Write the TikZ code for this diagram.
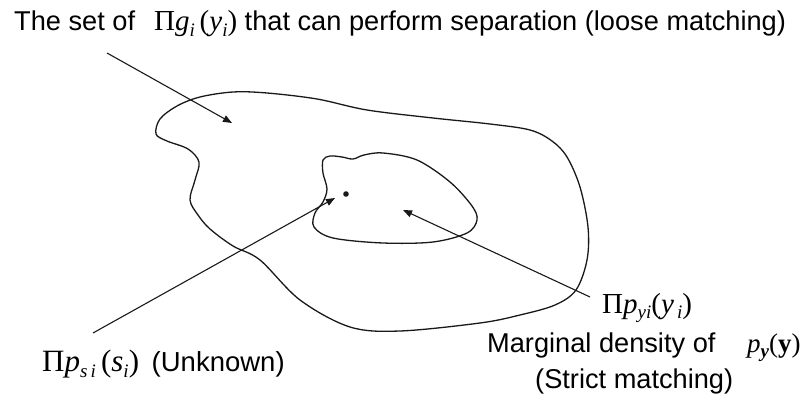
\documentclass[tikz,border=0pt]{standalone}
\usepackage{fontspec}
\setmainfont{Liberation Sans}
\newfontfamily\mserif{Liberation Serif}
\usetikzlibrary{arrows.meta}
\newcommand{\msb}[1]{\raisebox{-0.45ex}{\fontsize{19}{19}\selectfont\itshape #1}}
\newcommand{\mth}[2][29]{{\mserif\fontsize{#1}{34}\selectfont #2}}
\begin{document}
\begin{tikzpicture}[x=1pt,y=-1pt,
  lbl/.style={anchor=base west,inner sep=0pt,font=\fontsize{27.2}{32}\selectfont},
  ulbl/.style={anchor=base west,inner sep=0pt,font=\fontsize{27.5}{32}\selectfont},
  curve/.style={line width=1.3pt,color=black!90},
  pointer/.style={line width=1.1pt,color=black!90,-{Triangle[length=9pt,width=7pt]}}]
\useasboundingbox (0,0) rectangle (803,395);
% outer region
\draw[curve] plot[smooth cycle,tension=0.55] coordinates {
 (233,92) (267,93) (317,99) (367,110) (433,118) (490,124) (530,130) (552,141)
 (567,157) (580,187) (588,227) (587,260) (576,290) (555,305) (520,315) (480,323)
 (400,331) (350,327) (300,300) (260,260) (233,246) (210,229) (198,215)
 (190,200) (195,180) (199,162) (188,149) (167,141) (156,134) (160,119) (177,106) (200,97)};
% inner region
\draw[curve] plot[smooth cycle,tension=0.55] coordinates {
 (323,160) (330,156) (342,157) (353,159) (364,155) (383,153) (417,160) (450,182)
 (472,206) (477,220) (467,233) (433,242) (383,243) (333,238) (314,227) (315,213)
 (323,202) (327,189) (323,173)};
% dot
\fill[black!90] (346,194) circle (2.8pt);
% labels
\node[lbl] (top) at (14,31) {The set of\hspace{19pt}\mth{Π\textit{g}\msb{i}\,(\textit{y}\msb{i})} that can perform separation (loose matching)};
\node[ulbl] (unk) at (42,371) {\mth[31]{Π\textit{p}\msb{s\,i}\,(\textit{s}\msb{i})}\hspace{5pt} (Unknown)};
\node[lbl] (pyi) at (602,313) {\mth{Π\textit{p}\msb{yi}(\textit{y}\msb{\,i})}};
\node[lbl] (marg) at (487,352) {Marginal density of};
\node[lbl] (py) at (747,352) {\mth[27]{\textit{p}\msb{\textbf{y}}(\textbf{y})}};
\node[lbl] (strict) at (535,388) {(Strict matching)};
% connectors
\coordinate (s1) at (107,53);
\coordinate (e1) at (232,123);
\coordinate (s2) at (93,333);
\coordinate (e2) at (335,198);
\coordinate (s3) at (590,297);
\coordinate (e3) at (403,210);
\draw[pointer] (s1) -- (e1);
\draw[pointer] (s2) -- (e2);
\draw[pointer] (s3) -- (e3);
\end{tikzpicture}
\end{document}
